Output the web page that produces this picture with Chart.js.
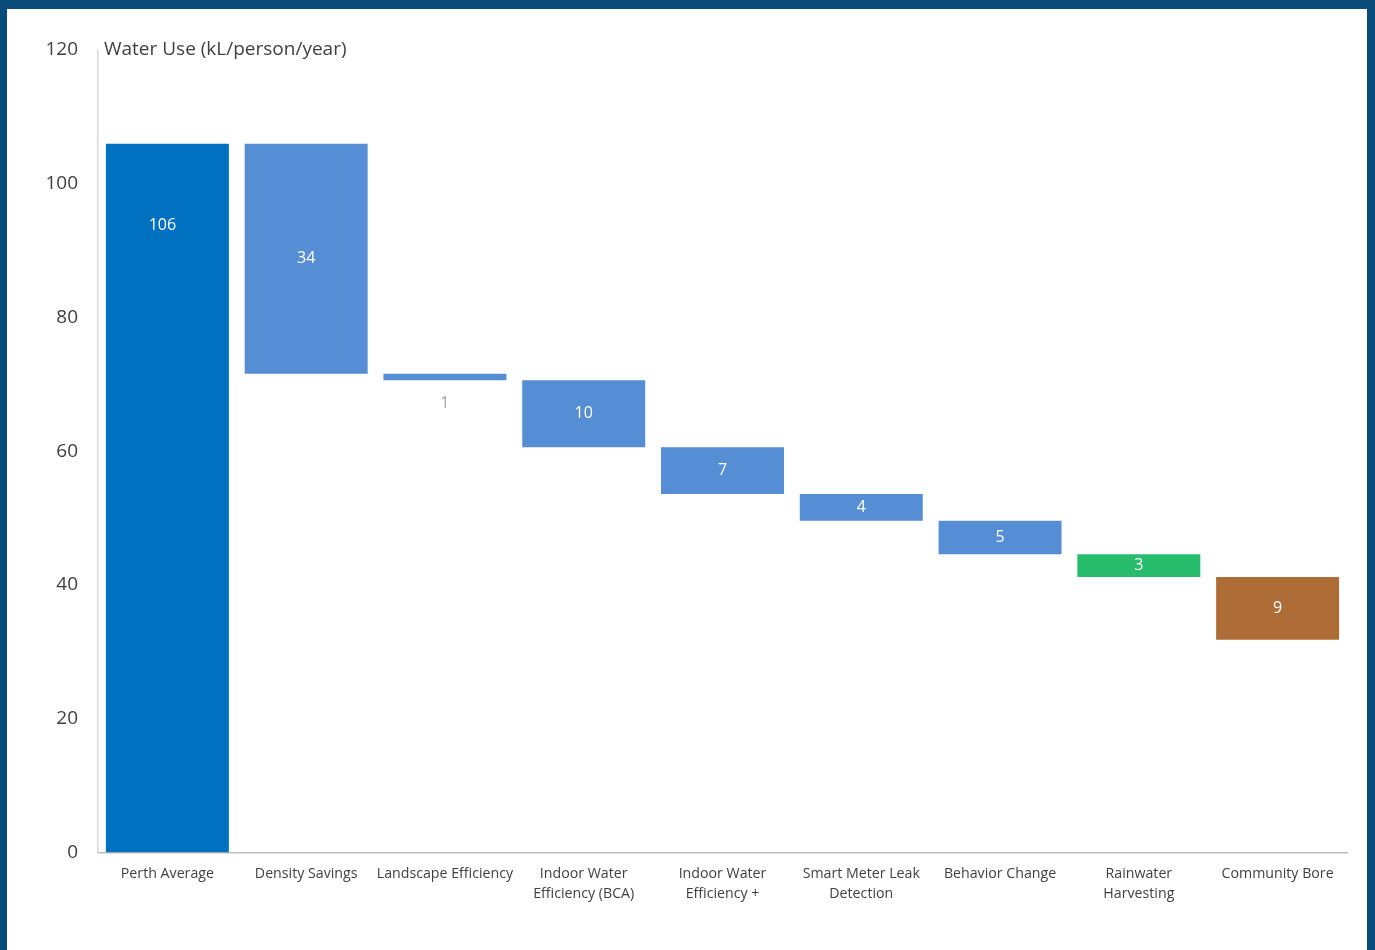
<!DOCTYPE html>
<html>
<head>
<meta charset="utf-8">
<script src="https://cdn.jsdelivr.net/npm/chart.js@4.4.1/dist/chart.umd.min.js"></script>
<style>
  html, body { margin: 0; padding: 0; background: #084A78; width: 1375px; height: 950px; overflow: hidden; }
  #panel { position: absolute; left: 7px; top: 9px; width: 1360px; height: 941px; background: #ffffff; }
  canvas { display: block; }
</style>
</head>
<body>
<div id="panel"><canvas id="c" width="1360" height="941"></canvas></div>
<script>
const categories = [
  "Perth Average",
  "Density Savings",
  "Landscape Efficiency",
  ["Indoor Water", "Efficiency (BCA)"],
  ["Indoor Water", "Efficiency +"],
  ["Smart Meter Leak", "Detection"],
  "Behavior Change",
  ["Rainwater", "Harvesting"],
  "Community Bore"
];
const baseline = 106;
const savings = [34.4, 1.0, 10.0, 7.0, 4.0, 5.0, 3.4, 9.4];
const yTicks = [0, 20, 40, 60, 80, 100, 120];
const barColors = ["#0070C0", "#558ED5", "#558ED5", "#558ED5", "#558ED5", "#558ED5", "#558ED5", "#27BC6B", "#AE6D37"];
const labelColors = ["#ffffff", "#ffffff", "#A6A6A6", "#ffffff", "#ffffff", "#ffffff", "#ffffff", "#ffffff", "#ffffff"];

// Build floating bar table for the waterfall
const floating = [[0, baseline]];
const shown = [baseline];
let level = baseline;
for (const s of savings) {
  floating.push([level - s, level]);
  shown.push(Math.round(s));
  level -= s;
}

const FONT = "'Open Sans', sans-serif";

const labelPlugin = {
  id: 'wfLabels',
  afterDatasetsDraw(chart) {
    const ctx = chart.ctx;
    const meta = chart.getDatasetMeta(0);
    const y = chart.scales.y;
    ctx.save();
    ctx.font = "16px " + FONT;
    ctx.textAlign = 'center';
    ctx.textBaseline = 'middle';
    meta.data.forEach((bar, i) => {
      const [lo, hi] = floating[i];
      let py;
      if (i === 0) {
        py = y.getPixelForValue(hi) + 82;
      } else if (hi - lo < 2) {
        py = y.getPixelForValue(lo) + 23;
      } else {
        py = (y.getPixelForValue(lo) + y.getPixelForValue(hi)) / 2;
      }
      ctx.fillStyle = labelColors[i];
      const px = i === 0 ? bar.x - 5 : bar.x;
      ctx.fillText(String(shown[i]), px, py);
    });
    ctx.restore();
  }
};

const titlePlugin = {
  id: 'axisTitle',
  afterDraw(chart) {
    const ctx = chart.ctx;
    const a = chart.chartArea;
    ctx.save();
    ctx.font = "19px " + FONT;
    ctx.fillStyle = "#404040";
    ctx.textAlign = 'left';
    ctx.textBaseline = 'middle';
    ctx.fillText("Water Use (kL/person/year)", a.left + 6, a.top);
    ctx.restore();
  }
};

new Chart(document.getElementById('c'), {
  type: 'bar',
  data: {
    labels: categories,
    datasets: [{
      data: floating,
      backgroundColor: barColors,
      borderWidth: 0,
      categoryPercentage: 1.0,
      barPercentage: 0.886
    }]
  },
  options: {
    responsive: false,
    animation: false,
    events: [],
    layout: { padding: { left: 0, right: 20, top: 41, bottom: 0 } },
    plugins: { legend: { display: false }, tooltip: { enabled: false } },
    scales: {
      x: {
        grid: { display: false, drawTicks: false },
        border: { display: true, color: "#BFBFC4", width: 1.5 },
        ticks: {
          color: "#404040",
          font: { family: FONT, size: 14.2, lineHeight: 1.42 },
          padding: 11,
          maxRotation: 0,
          autoSkip: false
        },
        afterFit(s) { s.height = 97.5; }
      },
      y: {
        min: 0,
        max: 120,
        grid: { display: false, drawTicks: false },
        border: { display: true, color: "#D9D9D9", width: 1.5 },
        afterBuildTicks(s) { s.ticks = yTicks.map(v => ({ value: v })); },
        ticks: {
          color: "#404040",
          font: { family: FONT, size: 19 },
          padding: 20
        },
        afterFit(s) { s.width = 91; }
      }
    }
  },
  plugins: [labelPlugin, titlePlugin]
});
</script>
</body>
</html>
